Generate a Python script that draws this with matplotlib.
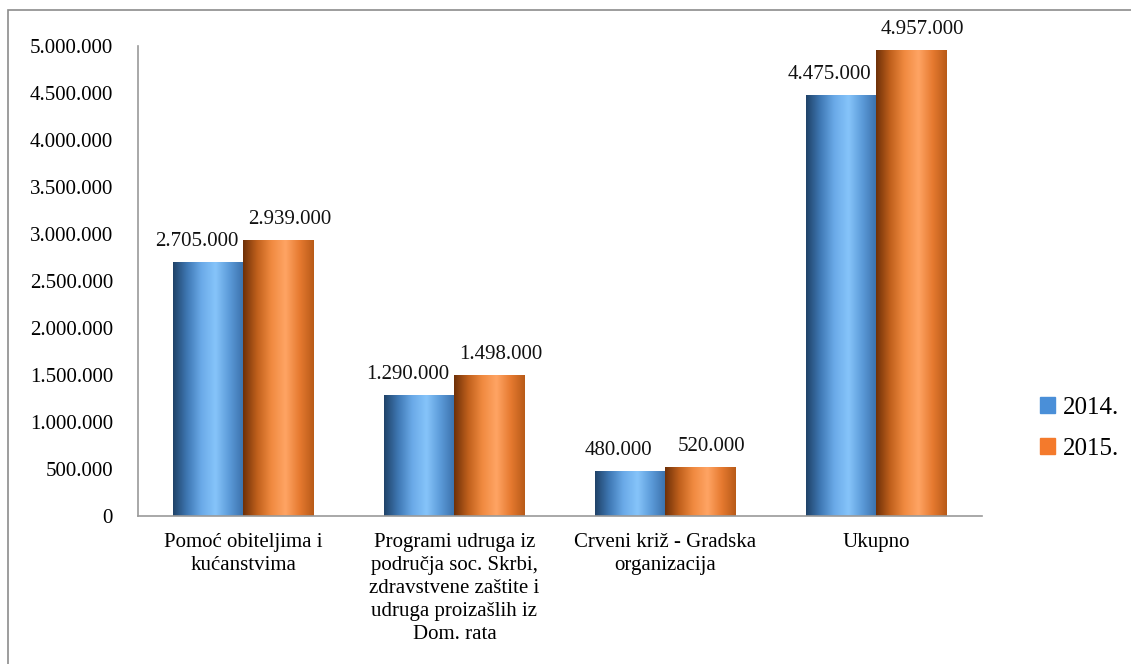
import numpy as np
import matplotlib
matplotlib.use("Agg")
from matplotlib import pyplot as plt
from matplotlib.colors import LinearSegmentedColormap
from matplotlib.patches import Rectangle
from matplotlib.ticker import FuncFormatter

plt.rcParams['font.family'] = ['Liberation Serif', 'DejaVu Serif']

categories = ["Pomoć obiteljima i\nkućanstvima",
              "Programi udruga iz\npodručja soc. Skrbi,\nzdravstvene zaštite i\nudruga proizašlih iz\nDom. rata",
              "Crveni križ - Gradska\norganizacija",
              "Ukupno"]
series = ["2014.", "2015."]
v2014 = [2705000, 1290000, 480000, 4475000]
v2015 = [2939000, 1498000, 520000, 4957000]

def fmt(v):
    return "{:,}".format(int(v)).replace(",", ".")

# cylinder-like shading, left dark -> light -> slightly dark on right
blue_cm = LinearSegmentedColormap.from_list("b", ["#1f4268", "#3f78b4", "#6aaae8", "#86c4fa", "#5b9ad8", "#3a70aa"])
orange_cm = LinearSegmentedColormap.from_list("o", ["#6e3008", "#c0601c", "#f08a40", "#ffa464", "#e67a30", "#b85a18"])
flat_colors = ["#4a8fd8", "#f47a2c"]

fig = plt.figure(figsize=(11.31, 6.64), dpi=100)
ax = fig.add_axes([0.122, 0.223, 0.746, 0.708])

x = np.arange(len(categories))
w = 0.332
grad = np.linspace(0, 1, 256).reshape(1, -1)

for vals, cm, off, dx in [(v2014, blue_cm, -w / 2, -0.055), (v2015, orange_cm, w / 2, 0.055)]:
    bars = ax.bar(x + off, vals, width=w, color="none", edgecolor="none")
    for b, v in zip(bars, vals):
        x0 = b.get_x()
        im = ax.imshow(grad, cmap=cm, aspect="auto", extent=[x0, x0 + w, 0, v],
                       interpolation="bicubic", zorder=2)
        im.set_clip_path(b)
        ax.text(b.get_x() + w / 2 + dx, v + 115000, fmt(v), ha="center", va="bottom",
                fontsize=15, color="#111111")

ax.set_xlim(-0.5, len(categories) - 0.5)
ax.set_ylim(0, 5000000)
ax.set_yticks(np.arange(0, 5000001, 500000))
ax.yaxis.set_major_formatter(FuncFormatter(lambda v, p: fmt(v)))
ax.set_xticks(x)
ax.set_xticklabels(categories, fontsize=15, linespacing=1.3)
ax.tick_params(axis="y", labelsize=15, length=0, pad=18)
ax.tick_params(axis="x", length=0, pad=12)
for s in ["top", "right"]:
    ax.spines[s].set_visible(False)
for s in ["left", "bottom"]:
    ax.spines[s].set_color("#9a9a9a")
    ax.spines[s].set_linewidth(1.2)

handles = [Rectangle((0, 0), 1, 1, color=c) for c in flat_colors]
fig.legend(handles, series, loc="center left", bbox_to_anchor=(0.9, 0.355),
           frameon=False, fontsize=18, handlelength=0.6, handleheight=0.6,
           handletextpad=0.3, labelspacing=0.75)

# outer border of the chart area
fig.patches.append(Rectangle((8 / 1131, -0.1), 1.2, (664 - 10) / 664 + 0.1,
                             transform=fig.transFigure, fill=False,
                             edgecolor="#8c8c8c", linewidth=1.2))

fig.savefig("out.png", dpi=100, facecolor="white")
